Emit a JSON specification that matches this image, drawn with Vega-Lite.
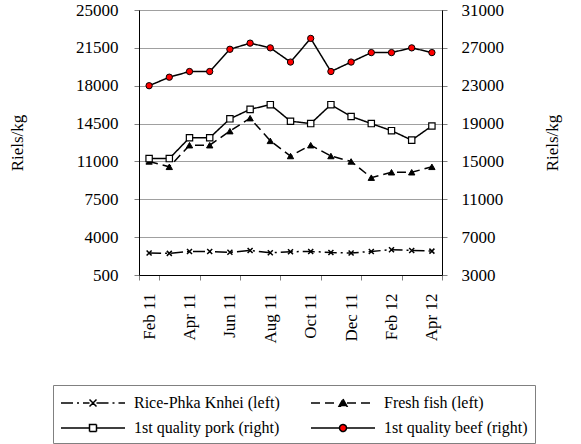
{
  "$schema": "https://vega.github.io/schema/vega-lite/v6.json",
  "width": 303,
  "height": 265,
  "autosize": {"type": "none"},
  "padding": {"left": 139, "top": 10, "right": 139, "bottom": 169},
  "background": "white",
  "config": {
    "font": "Liberation Serif",
    "view": {"stroke": "black", "strokeWidth": 1},
    "axis": {
      "labelFont": "Liberation Serif",
      "labelFontSize": 17,
      "labelColor": "black",
      "titleFont": "Liberation Serif",
      "titleFontSize": 17,
      "titleFontWeight": "normal",
      "titleColor": "black",
      "domainColor": "black",
      "tickColor": "#808080",
      "tickSize": 5
    },
    "legend": {"labelFont": "Liberation Serif"}
  },
  "datasets": {
    "left": [
      {"month": "Feb 11", "series": "Rice-Phka Knhei (left)", "value": 2530},
      {"month": "Mar 11", "series": "Rice-Phka Knhei (left)", "value": 2500},
      {"month": "Apr 11", "series": "Rice-Phka Knhei (left)", "value": 2680},
      {"month": "May 11", "series": "Rice-Phka Knhei (left)", "value": 2680},
      {"month": "Jun 11", "series": "Rice-Phka Knhei (left)", "value": 2600},
      {"month": "Jul 11", "series": "Rice-Phka Knhei (left)", "value": 2770},
      {"month": "Aug 11", "series": "Rice-Phka Knhei (left)", "value": 2550},
      {"month": "Sep 11", "series": "Rice-Phka Knhei (left)", "value": 2650},
      {"month": "Oct 11", "series": "Rice-Phka Knhei (left)", "value": 2680},
      {"month": "Nov 11", "series": "Rice-Phka Knhei (left)", "value": 2580},
      {"month": "Dec 11", "series": "Rice-Phka Knhei (left)", "value": 2530},
      {"month": "Jan 12", "series": "Rice-Phka Knhei (left)", "value": 2680},
      {"month": "Feb 12", "series": "Rice-Phka Knhei (left)", "value": 2840},
      {"month": "Mar 12", "series": "Rice-Phka Knhei (left)", "value": 2770},
      {"month": "Apr 12", "series": "Rice-Phka Knhei (left)", "value": 2710},
      {"month": "Feb 11", "series": "Fresh fish (left)", "value": 11000},
      {"month": "Mar 11", "series": "Fresh fish (left)", "value": 10500},
      {"month": "Apr 11", "series": "Fresh fish (left)", "value": 12500},
      {"month": "May 11", "series": "Fresh fish (left)", "value": 12500},
      {"month": "Jun 11", "series": "Fresh fish (left)", "value": 13800},
      {"month": "Jul 11", "series": "Fresh fish (left)", "value": 15000},
      {"month": "Aug 11", "series": "Fresh fish (left)", "value": 12900},
      {"month": "Sep 11", "series": "Fresh fish (left)", "value": 11500},
      {"month": "Oct 11", "series": "Fresh fish (left)", "value": 12500},
      {"month": "Nov 11", "series": "Fresh fish (left)", "value": 11500},
      {"month": "Dec 11", "series": "Fresh fish (left)", "value": 11000},
      {"month": "Jan 12", "series": "Fresh fish (left)", "value": 9500},
      {"month": "Feb 12", "series": "Fresh fish (left)", "value": 10000},
      {"month": "Mar 12", "series": "Fresh fish (left)", "value": 10000},
      {"month": "Apr 12", "series": "Fresh fish (left)", "value": 10500}
    ],
    "right": [
      {"month": "Feb 11", "series": "1st quality pork (right)", "value": 15300},
      {"month": "Mar 11", "series": "1st quality pork (right)", "value": 15300},
      {"month": "Apr 11", "series": "1st quality pork (right)", "value": 17500},
      {"month": "May 11", "series": "1st quality pork (right)", "value": 17500},
      {"month": "Jun 11", "series": "1st quality pork (right)", "value": 19500},
      {"month": "Jul 11", "series": "1st quality pork (right)", "value": 20500},
      {"month": "Aug 11", "series": "1st quality pork (right)", "value": 21000},
      {"month": "Sep 11", "series": "1st quality pork (right)", "value": 19250},
      {"month": "Oct 11", "series": "1st quality pork (right)", "value": 19000},
      {"month": "Nov 11", "series": "1st quality pork (right)", "value": 21000},
      {"month": "Dec 11", "series": "1st quality pork (right)", "value": 19750},
      {"month": "Jan 12", "series": "1st quality pork (right)", "value": 19000},
      {"month": "Feb 12", "series": "1st quality pork (right)", "value": 18250},
      {"month": "Mar 12", "series": "1st quality pork (right)", "value": 17250},
      {"month": "Apr 12", "series": "1st quality pork (right)", "value": 18750},
      {"month": "Feb 11", "series": "1st quality beef (right)", "value": 23000},
      {"month": "Mar 11", "series": "1st quality beef (right)", "value": 23900},
      {"month": "Apr 11", "series": "1st quality beef (right)", "value": 24500},
      {"month": "May 11", "series": "1st quality beef (right)", "value": 24500},
      {"month": "Jun 11", "series": "1st quality beef (right)", "value": 26850},
      {"month": "Jul 11", "series": "1st quality beef (right)", "value": 27500},
      {"month": "Aug 11", "series": "1st quality beef (right)", "value": 27000},
      {"month": "Sep 11", "series": "1st quality beef (right)", "value": 25500},
      {"month": "Oct 11", "series": "1st quality beef (right)", "value": 28000},
      {"month": "Nov 11", "series": "1st quality beef (right)", "value": 24500},
      {"month": "Dec 11", "series": "1st quality beef (right)", "value": 25500},
      {"month": "Jan 12", "series": "1st quality beef (right)", "value": 26500},
      {"month": "Feb 12", "series": "1st quality beef (right)", "value": 26500},
      {"month": "Mar 12", "series": "1st quality beef (right)", "value": 27000},
      {"month": "Apr 12", "series": "1st quality beef (right)", "value": 26500}
    ]
  },
  "layer": [
    {
      "data": {"name": "left"},
      "encoding": {
        "x": {
          "field": "month", "type": "ordinal",
          "sort": ["Feb 11","Mar 11","Apr 11","May 11","Jun 11","Jul 11","Aug 11","Sep 11","Oct 11","Nov 11","Dec 11","Jan 12","Feb 12","Mar 12","Apr 12"],
          "scale": {"type": "band", "paddingInner": 0, "paddingOuter": 0},
          "axis": {
            "title": null,
            "values": ["Feb 11","Apr 11","Jun 11","Aug 11","Oct 11","Dec 11","Feb 12","Apr 12"],
            "labelAngle": 270,
            "tickBand": "extent",
            "labelPadding": 13,
            "grid": false
          }
        },
        "y": {
          "field": "value", "type": "quantitative",
          "scale": {"domain": [500, 25000], "nice": false, "zero": false},
          "axis": {
            "title": "Riels/kg",
            "orient": "left",
            "values": [500, 4000, 7500, 11000, 14500, 18000, 21500, 25000],
            "format": "d",
            "grid": true,
            "gridColor": "#a0a0a0",
            "labelPadding": 16,
            "titlePadding": 49
          }
        }
      },
      "layer": [
        {
          "mark": {"type": "line", "stroke": "black", "strokeWidth": 1.5},
          "encoding": {
            "strokeDash": {
              "field": "series", "type": "nominal",
              "scale": {
                "domain": ["Rice-Phka Knhei (left)", "Fresh fish (left)", "1st quality pork (right)", "1st quality beef (right)"],
                "range": [[12, 4, 2, 4], [9, 5], [1, 0], [1, 0]]
              },
              "legend": {
                "title": null,
                "orient": "none",
                "legendX": -86,
                "legendY": 375,
                "columns": 2,
                "direction": "horizontal",
                "symbolSize": 400,
                "symbolStrokeWidth": 1.5,
                "symbolStrokeColor": "black",
                "labelOffset": 52,
                "labelFontSize": 16,
                "labelColor": "black",
                "labelLimit": 300,
                "columnPadding": 28,
                "rowPadding": 6,
                "padding": 7,
                "strokeColor": "#808080",
                "fillColor": "white"
              }
            }
          }
        },
        {
          "transform": [{"filter": "false"}],
          "mark": {"type": "point", "filled": true, "stroke": "black", "strokeWidth": 1.5, "opacity": 1},
          "encoding": {
            "shape": {
              "field": "series", "type": "nominal",
              "scale": {
                "domain": ["Rice-Phka Knhei (left)", "Fresh fish (left)", "1st quality pork (right)", "1st quality beef (right)"],
                "range": [
                  "M-1,0H1.85M2.55,0H5.4M1.85,-0.35L2.55,0.35M1.85,0.35L2.55,-0.35",
                  "M-1,0H1.8M2.6,0H5.4M2.2,-0.4L2.6,0.32L1.8,0.32Z",
                  "M-1,0H1.85M2.55,0H5.4M1.85,-0.35H2.55V0.35H1.85Z",
                  "M-1,0H1.85M2.55,0H5.4M1.85,0A0.35,0.35 0 1,0 2.55,0A0.35,0.35 0 1,0 1.85,0Z"
                ]
              },
              "legend": {"title": null}
            },
            "fill": {
              "field": "series", "type": "nominal",
              "scale": {
                "domain": ["Rice-Phka Knhei (left)", "Fresh fish (left)", "1st quality pork (right)", "1st quality beef (right)"],
                "range": ["black", "black", "white", "#ff0000"]
              },
              "legend": {"title": null}
            }
          }
        },
        {
          "transform": [{"filter": "datum.series === 'Rice-Phka Knhei (left)'"}],
          "mark": {"type": "point", "shape": "M-1,-1L1,1M-1,1L1,-1", "filled": false, "stroke": "black", "strokeWidth": 1.5, "opacity": 1, "size": 25}
        },
        {
          "transform": [{"filter": "datum.series === 'Fresh fish (left)'"}],
          "mark": {"type": "point", "shape": "triangle-up", "filled": true, "fill": "black", "stroke": "black", "strokeWidth": 1, "opacity": 1, "size": 40}
        }
      ]
    },
    {
      "data": {"name": "right"},
      "encoding": {
        "x": {
          "field": "month", "type": "ordinal",
          "sort": ["Feb 11","Mar 11","Apr 11","May 11","Jun 11","Jul 11","Aug 11","Sep 11","Oct 11","Nov 11","Dec 11","Jan 12","Feb 12","Mar 12","Apr 12"],
          "scale": {"type": "band", "paddingInner": 0, "paddingOuter": 0},
          "axis": {
            "title": null,
            "values": ["Feb 11","Apr 11","Jun 11","Aug 11","Oct 11","Dec 11","Feb 12","Apr 12"],
            "labelAngle": 270,
            "tickBand": "extent",
            "labelPadding": 13,
            "grid": false
          }
        },
        "y": {
          "field": "value", "type": "quantitative",
          "scale": {"domain": [3000, 31000], "nice": false, "zero": false},
          "axis": {
            "title": "Riels/kg",
            "orient": "right",
            "values": [3000, 7000, 11000, 15000, 19000, 23000, 27000, 31000],
            "format": "d",
            "grid": false,
            "labelPadding": 14,
            "titleAngle": 270,
            "titlePadding": 58
          }
        }
      },
      "layer": [
        {
          "mark": {"type": "line", "stroke": "black", "strokeWidth": 1.5},
          "encoding": {
            "strokeDash": {
              "field": "series", "type": "nominal",
              "scale": {
                "domain": ["Rice-Phka Knhei (left)", "Fresh fish (left)", "1st quality pork (right)", "1st quality beef (right)"],
                "range": [[12, 4, 2, 4], [9, 5], [1, 0], [1, 0]]
              }
            }
          }
        },
        {
          "transform": [{"filter": "datum.series === '1st quality pork (right)'"}],
          "mark": {"type": "point", "shape": "square", "filled": true, "fill": "white", "stroke": "black", "strokeWidth": 1.2, "opacity": 1, "size": 40}
        },
        {
          "transform": [{"filter": "datum.series === '1st quality beef (right)'"}],
          "mark": {"type": "point", "shape": "circle", "filled": true, "fill": "#ff0000", "stroke": "black", "strokeWidth": 1, "opacity": 1, "size": 40}
        }
      ]
    }
  ],
  "resolve": {"scale": {"y": "independent"}}
}
